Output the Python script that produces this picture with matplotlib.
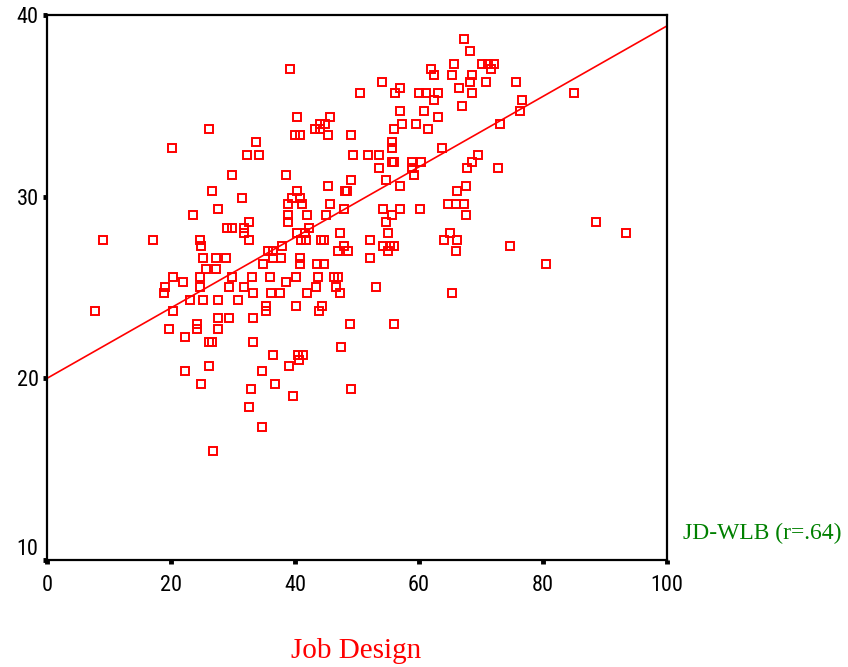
import matplotlib
matplotlib.use("Agg")
import matplotlib.pyplot as plt

# Job Design (x) and Work-Life Balance (y) values
job_design = [
    67.3, 68.2, 65.6, 70.1, 71.1, 72.1, 71.6, 62.0, 62.4, 65.3, 68.6, 68.2, 70.8, 75.6, 54.0,
    56.9, 56.2, 50.5, 60.0, 61.1, 63.1, 62.4, 66.5, 68.6, 66.9, 76.6, 76.3, 56.9, 60.8, 63.0,
    57.2, 59.5, 55.9, 61.5, 73.1, 55.6, 55.6, 63.7, 49.4, 51.7, 53.6, 55.6, 55.9, 53.6, 58.8,
    60.4, 58.8, 59.2, 69.5, 68.6, 67.8, 72.7, 54.6, 56.9, 67.6, 66.2, 64.6, 66.0, 67.3, 54.2,
    56.9, 55.7, 60.2, 67.6, 54.6, 55.0, 52.1, 54.2, 55.3, 55.9, 55.0, 52.1, 64.0, 65.0, 66.2,
    65.9, 74.7, 53.0, 65.3, 55.9, 85.0, 88.5, 93.4, 80.5, 49.1, 49.1, 48.1, 48.4, 47.9, 47.3,
    47.9, 48.5, 46.9, 46.3, 46.9, 47.4, 48.9, 49.1,
    39.2, 40.4, 44.0, 44.8, 45.6, 43.3, 44.0, 45.3, 40.0, 40.8, 26.2, 33.7, 20.1, 32.3, 34.2,
    29.8, 38.5, 26.6, 31.4, 45.3, 40.3, 39.5, 40.8, 38.8, 41.1, 45.6, 23.6, 27.5, 32.6, 31.7,
    29.0, 29.8, 38.8, 38.8, 42.0, 45.0, 42.3, 32.6, 31.8, 40.3, 41.0, 41.7, 41.6, 44.2, 44.6,
    9.1, 17.1, 24.6, 24.8, 25.2, 27.2, 28.9, 25.6, 27.2, 20.4, 22.0, 24.6, 29.8, 33.0, 35.9,
    38.5, 40.1, 43.7, 34.9, 36.5, 37.7, 35.6, 36.4, 37.9, 40.8, 40.8, 43.5, 44.6, 19.1, 18.8,
    24.7, 29.4, 31.8, 33.3, 36.1, 37.5, 42.0, 43.4, 46.6, 47.3, 23.1, 25.2, 27.5, 30.8, 35.3,
    35.3, 40.2, 44.3, 43.8, 7.7, 20.4, 27.5, 29.4, 33.3, 24.2, 24.2, 19.7, 22.3, 27.5, 26.2,
    26.6, 33.3, 36.5, 40.5, 41.3, 40.7, 39.1, 22.3, 26.2, 34.6, 24.9, 36.8, 32.9, 39.7, 32.6,
    34.6, 26.8,
]
work_life_balance = [
    38.7, 38.0, 37.3, 37.3, 37.3, 37.3, 37.0, 37.0, 36.7, 36.7, 36.7, 36.3, 36.3, 36.3, 36.3,
    36.0, 35.7, 35.7, 35.7, 35.7, 35.7, 35.3, 36.0, 35.7, 35.0, 35.3, 34.7, 34.7, 34.7, 34.4,
    34.0, 34.0, 33.7, 33.7, 34.0, 33.0, 32.7, 32.7, 32.3, 32.3, 32.3, 31.9, 31.9, 31.6, 31.9,
    31.9, 31.6, 31.2, 32.3, 31.9, 31.6, 31.6, 30.9, 30.6, 30.6, 30.3, 29.6, 29.6, 29.6, 29.3,
    29.3, 29.0, 29.3, 29.0, 28.6, 28.0, 27.6, 27.3, 27.3, 27.3, 27.0, 26.6, 27.6, 28.0, 27.6,
    27.0, 27.3, 25.0, 24.7, 23.0, 35.7, 28.6, 28.0, 26.3, 33.4, 30.9, 30.3, 30.3, 29.3, 28.0,
    27.3, 27.0, 27.0, 25.6, 25.6, 21.7, 23.0, 19.4,
    37.0, 34.4, 34.0, 34.0, 34.4, 33.7, 33.7, 33.4, 33.4, 33.4, 33.7, 33.0, 32.7, 32.3, 32.3,
    31.2, 31.2, 30.3, 29.9, 30.6, 30.3, 29.9, 29.9, 29.6, 29.6, 29.6, 29.0, 29.3, 28.6, 28.3,
    28.3, 28.3, 29.0, 28.6, 29.0, 29.0, 28.3, 27.6, 28.0, 28.0, 27.6, 27.6, 28.0, 27.6, 27.6,
    27.6, 27.6, 27.6, 27.3, 26.6, 26.6, 26.6, 26.0, 26.0, 25.6, 25.3, 25.6, 25.6, 25.6, 25.6,
    25.3, 25.6, 25.6, 26.3, 26.6, 26.6, 27.0, 27.0, 27.3, 26.6, 26.3, 26.3, 26.3, 25.0, 24.7,
    25.0, 25.0, 25.0, 24.7, 24.7, 24.7, 24.7, 25.0, 25.0, 24.7, 24.3, 24.3, 24.3, 24.3, 24.0,
    23.7, 24.0, 24.0, 23.7, 23.7, 23.7, 23.3, 23.3, 23.3, 23.0, 22.7, 22.7, 22.3, 22.7, 22.0,
    22.0, 22.0, 21.3, 21.3, 21.3, 21.0, 20.7, 20.4, 20.7, 20.4, 19.7, 19.7, 19.4, 19.0, 18.4,
    17.3, 16.0,
]

# fitted regression line end points
fit_x = [0, 100]
fit_y = [20.0, 39.4]

x_ticks = [0, 20, 40, 60, 80, 100]
y_ticks = [10, 20, 30, 40]

fig = plt.figure(figsize=(8.48, 6.67), dpi=100)
ax = fig.add_axes([47 / 848, 107 / 667, 620 / 848, 545 / 667])

ax.plot(job_design, work_life_balance, linestyle="none", marker="s",
        markersize=6.2, markerfacecolor="none", markeredgecolor="#ff0000",
        markeredgewidth=1.4, clip_on=False)
ax.plot(fit_x, fit_y, color="#ff0000", linewidth=1.2)

ax.set_xlim(0, 100)
ax.set_ylim(10, 40)
ax.set_xticks(x_ticks)
ax.set_yticks(y_ticks)

tick_font = {"family": ["Roboto Condensed", "Liberation Sans"], "size": 16}
ax.set_xticklabels([str(t) for t in x_ticks], fontdict=tick_font)
ax.set_yticklabels([str(t) for t in y_ticks], fontdict=tick_font)
ax.get_yticklabels()[0].set_va("bottom")
ax.tick_params(axis="both", direction="out", length=3, width=3.5, color="black")
ax.tick_params(axis="x", pad=8)
ax.tick_params(axis="y", pad=3)

for s in ax.spines.values():
    s.set_linewidth(1.6)
    s.set_color("black")

fig.text(356 / 848, 1 - 651 / 667, "Job Design", color="#ff0000",
         family=["Liberation Serif", "DejaVu Serif"], fontsize=21,
         ha="center", va="center")
fig.text(683 / 848, 1 - 533 / 667, "JD-WLB (r=.64)", color="#008000",
         family=["Liberation Serif", "DejaVu Serif"], fontsize=17,
         ha="left", va="center")

fig.savefig("out.png", dpi=100)
